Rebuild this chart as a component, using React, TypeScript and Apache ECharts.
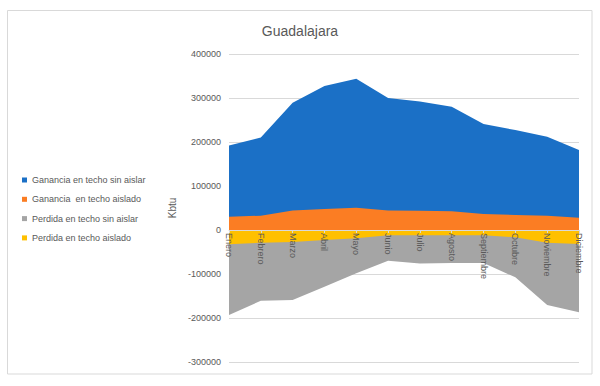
import React, { useEffect, useRef } from "react";
import * as echarts from "echarts";

const months = ["Enero", "Febrero", "Marzo", "Abril", "Mayo", "Junio", "Julio", "Agosto", "Septiembre", "Octubre", "Noviembre", "Diciembre"];
const gananciaSinAislar = [192000, 210000, 289000, 327000, 344000, 300000, 292000, 280000, 241000, 227000, 212000, 182000];
const gananciaAislado = [30000, 32500, 44500, 47500, 50500, 44500, 44000, 42500, 36500, 34000, 32500, 28000];
const perdidaSinAislar = [-193000, -161000, -159000, -129000, -98500, -70000, -76000, -75000, -75000, -107500, -170500, -187000];
const perdidaAislado = [-32500, -29000, -27000, -22500, -19000, -12000, -12000, -12000, -12000, -16500, -29000, -32000];
const seriesNames = ["Ganancia en techo sin aislar", "Ganancia  en techo aislado", "Perdida en techo sin aislar", "Perdida en techo aislado"];
const colors = ["#1b70c6", "#fb7d23", "#a5a5a5", "#ffc000"];

export default function App() {
  const ref = useRef<HTMLDivElement>(null);
  useEffect(() => {
    document.body.style.margin = "0";
    const chart = echarts.init(ref.current!, null, { renderer: "svg" });
    const font = "'Liberation Sans', 'Noto Sans', sans-serif";
    const data = [gananciaSinAislar, gananciaAislado, perdidaSinAislar, perdidaAislado];
    const gridTop = 54;
    const gridBottom = 24;
    const yMin = -300000;
    const yMax = 400000;
    const plotH = 386 - gridTop - gridBottom;
    const zeroOffset = -(plotH * (0 - yMin)) / (yMax - yMin);
    chart.setOption({
      animation: false,
      color: colors,
      textStyle: { fontFamily: font },
      title: {
        text: "Guadalajara",
        left: "center",
        top: 19,
        textStyle: { fontSize: 14, fontWeight: "normal", color: "#595959", fontFamily: font },
      },
      graphic: [
        {
          type: "rect",
          shape: { x: 7.5, y: 10.5, width: 584.5, height: 363.5 },
          style: { fill: "none", stroke: "#d9d9d9", lineWidth: 1 },
          silent: true,
        },
      ],
      legend: {
        orient: "vertical",
        left: 17,
        top: 169,
        itemWidth: 5,
        itemHeight: 5,
        itemGap: 7.3,
        icon: "rect",
        data: seriesNames,
        textStyle: { fontSize: 9, color: "#595959", lineHeight: 12, fontFamily: font },
      },
      grid: { left: 229, right: 21, top: gridTop, bottom: gridBottom, containLabel: false, outerBoundsMode: "none" },
      xAxis: {
        type: "category",
        data: months,
        boundaryGap: false,
        position: "bottom",
        offset: zeroOffset,
        z: 10,
        axisLine: { onZero: false, lineStyle: { color: "#d9d9d9" } },
        axisTick: { show: true, length: 3, lineStyle: { color: "#d9d9d9" } },
        axisLabel: { rotate: -90, fontSize: 9, color: "#595959", margin: 3, interval: 0 },
      },
      yAxis: {
        type: "value",
        min: yMin,
        max: yMax,
        interval: 100000,
        name: "Kbtu",
        nameLocation: "middle",
        nameRotate: 90,
        nameGap: 51,
        nameTextStyle: { fontSize: 10, color: "#595959" },
        axisLine: { show: false },
        axisTick: { show: false },
        axisLabel: { fontSize: 9, color: "#595959", margin: 8, formatter: (v: number) => String(v) },
        splitLine: { lineStyle: { color: "#d9d9d9", width: 1 } },
      },
      series: seriesNames.map((name, i) => ({
        name,
        type: "line",
        data: data[i],
        showSymbol: false,
        symbol: "none",
        lineStyle: { width: 0 },
        areaStyle: { color: colors[i], opacity: 1 },
        z: 2 + i,
      })),
    });
    return () => chart.dispose();
  }, []);
  return <div ref={ref} style={{ width: 600, height: 386 }} />;
}
